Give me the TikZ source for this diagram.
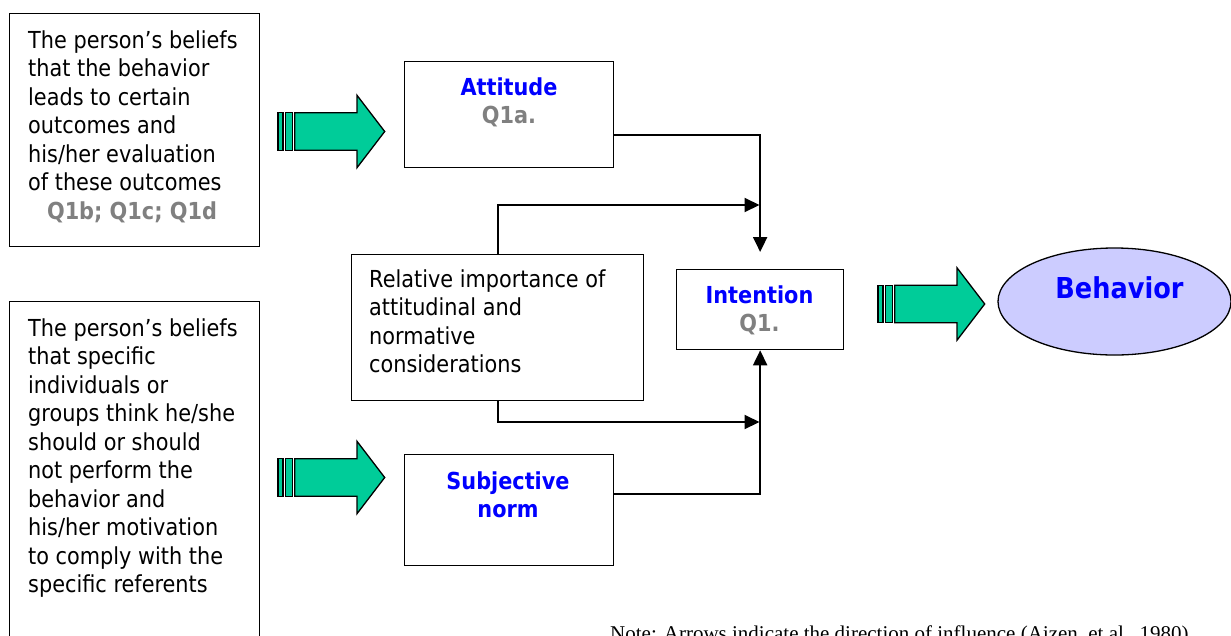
\documentclass[tikz,border=0pt]{standalone}
\usepackage{fontspec}
\setmainfont{DejaVu Sans}[FakeStretch=0.89]
\newfontfamily\notefont{Liberation Serif}
\usetikzlibrary{shapes.geometric,arrows.meta}

\definecolor{arrowgreen}{RGB}{0,204,153}
\definecolor{behaviorfill}{RGB}{204,204,255}
\definecolor{titleblue}{RGB}{0,0,255}
\definecolor{qgray}{RGB}{128,128,128}

\def\fatArrows{278/131.5, 278/477.5, 878/304}
\tikzstyle{plain-box}=[draw, line width=1.3pt, rectangle, inner sep=0pt, anchor=north west]
\tikzstyle{body-text}=[inner sep=0pt, anchor=base west, align=left, font=\fontsize{23.4}{28.5}\selectfont]
\tikzstyle{title-text}=[inner sep=0pt, anchor=base, align=center, font=\fontsize{23.4}{27.5}\selectfont\bfseries]
\tikzstyle{link}=[draw, line width=2pt, -{Triangle[length=15pt,width=14pt]}]
\tikzstyle{fat-arrow}=[draw, line width=1.3pt, fill=arrowgreen]

\begin{document}
\begin{tikzpicture}[x=1pt, y=-1pt]
  \useasboundingbox (0,0) rectangle (1231,635);

  % Boxes
  \node[plain-box, minimum width=250pt, minimum height=233pt] (belAtt) at (9,13) {};
  \node[plain-box, minimum width=250pt, minimum height=400pt] (belNorm) at (9,301) {};
  \node[plain-box, minimum width=209pt, minimum height=106pt] (attitude) at (404,61) {};
  \node[plain-box, minimum width=209pt, minimum height=111pt] (subjNorm) at (404,454) {};
  \node[plain-box, minimum width=292pt, minimum height=146pt] (relImp) at (351,254) {};
  \node[plain-box, minimum width=167pt, minimum height=80pt] (intention) at (676,269) {};
  \node[draw, ellipse, line width=1.3pt, fill=behaviorfill, inner sep=0pt,
        minimum width=233pt, minimum height=107pt] (behavior) at (1114.5,301.5) {};

  % Texts (base = last line)
  \node[body-text] (belAttText) at (28,190.8) {The person’s beliefs\\that the behavior\\leads to certain\\outcomes and\\his/her evaluation\\of these outcomes};
  \node[title-text, text=qgray] (belAttQ) at (132,219.3) {Q1b; Q1c; Q1d};
  \node[body-text] (belNormText) at (28,592.5) {The person’s beliefs\\that specific\\individuals or\\groups think he/she\\should or should\\not perform the\\behavior and\\his/her motivation\\to comply with the\\specific referents};
  \node[body-text] (relImpText) at (369,372.5) {Relative importance of\\attitudinal and\\normative\\considerations};
  \node[title-text] (attitudeText) at (509,123) {\textcolor{titleblue}{Attitude}\\\textcolor{qgray}{Q1a.}};
  \node[title-text, text=titleblue] (subjNormText) at (508,517) {Subjective\\norm};
  \node[title-text] (intentionText) at (759.5,331) {\textcolor{titleblue}{Intention}\\\textcolor{qgray}{Q1.}};
  \node[title-text, text=titleblue, font=\fontsize{28.8}{32}\selectfont\bfseries] (behaviorText) at (1119.5,298) {Behavior};
  \node[inner sep=0pt, anchor=base west, font=\notefont\fontsize{21}{25}\selectfont] (note) at (610,640)
    {Note: Arrows indicate the direction of influence (Ajzen, et al., 1980)};

  % Fat arrows
  \foreach \px/\py in \fatArrows {
    \begin{scope}[shift={(\px,\py)}]
      \path[fat-arrow] (0,-18.7) rectangle (5,18.7);
      \path[fat-arrow] (7.4,-18.7) rectangle (14.4,18.7);
      \path[fat-arrow] (16.7,-18.7) -- (79,-18.7) -- (79,-36.2) -- (106.7,0)
        -- (79,36.2) -- (79,18.7) -- (16.7,18.7) -- cycle;
    \end{scope}
  }

  % Connectors
  \coordinate (jTop) at (759.5,205);
  \coordinate (jBot) at (759.5,422);
  \draw[link] ([yshift=-20pt]attitude.east) -| ([yshift=17pt]intention.north);
  \draw[link] (relImp.north) |- (jTop);
  \draw[link] (relImp.south) |- (jBot);
  \draw[link] ([yshift=16.5pt]subjNorm.east) -| (intention.south);
\end{tikzpicture}
\end{document}
